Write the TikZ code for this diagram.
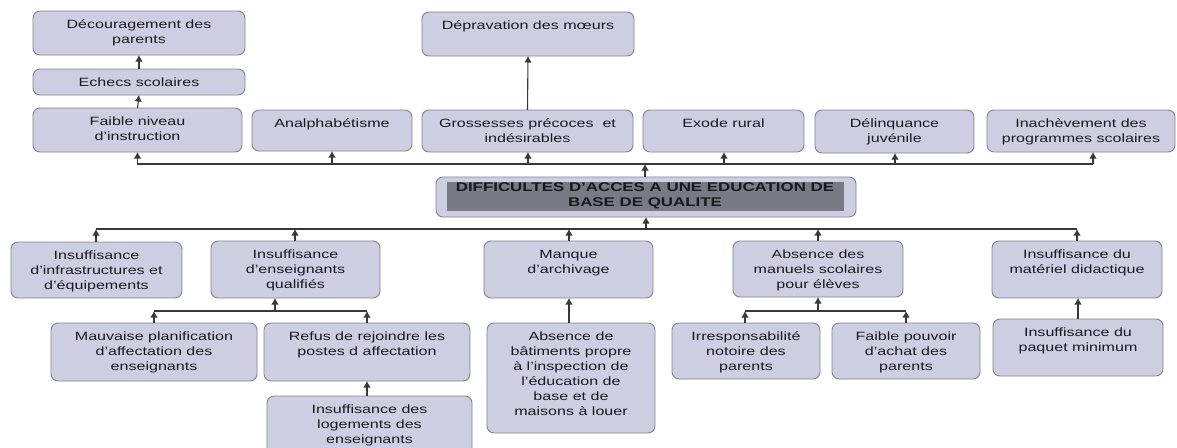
\documentclass[tikz,border=0pt]{standalone}
\usepackage{fontspec}
\setmainfont[FakeStretch=1.34]{Liberation Sans}
\usetikzlibrary{arrows.meta}
\definecolor{boxfill}{RGB}{206,206,226}
\definecolor{boxline}{RGB}{130,130,144}
\definecolor{linecol}{RGB}{55,55,60}
\definecolor{darkfill}{RGB}{122,122,132}
\definecolor{txtcol}{RGB}{25,25,30}
\tikzset{
  box/.style={draw=boxline, fill=boxfill, line width=0.9pt, rounded corners=7pt, inner sep=0pt, outer sep=0pt},
  txt/.style={text=txtcol, align=center, inner sep=0pt, font=\fontsize{12}{15}\selectfont},
  arr/.style={draw=linecol, line width=1.1pt, -{Latex[length=6.5pt,width=7.5pt]}},
  bus/.style={draw=linecol, line width=1.1pt},
}
\newcommand\bx[6]{%
  \node[box, minimum width={(#4-#2)*1pt}, minimum height={(#5-#3)*1pt}] (#1) at ({(#2+#4)/2},{(#3+#5)/2}) {};
  \node[txt, anchor=north] (#1-t) at ([yshift=-7pt]#1.north) {\strut #6};}
\begin{document}
\begin{tikzpicture}[x=1pt,y=-1pt]
\useasboundingbox (0,0) rectangle (1177,447);
\clip (0,0) rectangle (1177,447);
\fill[white] (0,0) rectangle (1177,447);

% top row
\bx{dec}{33}{11}{245}{55}{Découragement des\\parents}
\bx{ech}{33}{69}{245}{95}{Echecs scolaires}
\bx{fai}{33}{108}{242}{152}{Faible niveau\\d’instruction}
\bx{ana}{252}{110}{412}{151}{Analphabétisme}
\bx{gro}{422}{110}{633}{152}{Grossesses précoces~ et\\indésirables}
\bx{dep}{422}{12}{634}{56}{Dépravation des mœurs}
\bx{exo}{643}{110}{804}{152}{Exode rural}
\bx{del}{815}{110}{974}{153}{Délinquance\\juvénile}
\bx{ina}{987}{110}{1175}{152}{Inachèvement des\\programmes scolaires}

% central
\node[box, minimum width=420pt, minimum height=40pt] (cen) at (646,197) {};
\node[fill=darkfill, minimum width=397pt, minimum height=29pt, inner sep=0pt] (cenin) at (645.5,196.5) {};
\node[txt, font=\bfseries\fontsize{12.6}{15}\selectfont] (cen-t) at (645,195.5) {DIFFICULTES D’ACCES A UNE EDUCATION DE\\BASE DE QUALITE};

% lower row
\bx{inf}{11}{242}{182}{298}{Insuffisance\\d’infrastructures et\\d’équipements}
\bx{ens}{211}{241}{380}{298}{Insuffisance\\d’enseignants\\qualifiés}
\bx{man}{484}{241}{653}{298}{Manque\\d’archivage}
\bx{abm}{733}{241}{903}{297}{Absence des\\manuels scolaires\\pour élèves}
\bx{mat}{992}{241}{1162}{298}{Insuffisance du\\matériel didactique}
\bx{mau}{51}{323}{257}{381}{Mauvaise planification\\d’affectation des\\enseignants}
\bx{ref}{264}{323}{470}{381}{Refus de rejoindre les\\postes d affectation}
\bx{log}{267}{396}{472}{455}{Insuffisance des\\logements des\\enseignants}
\bx{bat}{487}{323}{655}{433}{Absence de\\bâtiments propre\\à l’inspection de\\l’éducation de\\base et de\\maisons à louer}
\bx{irr}{672}{323}{820}{379}{Irresponsabilité\\notoire des\\parents}
\bx{fpa}{832}{323}{980}{379}{Faible pouvoir\\d’achat des\\parents}
\bx{paq}{993}{319}{1163}{376}{Insuffisance du\\paquet minimum}

% top connectors
\draw[arr] (fai.north) -- (ech.south);
\draw[arr] (ech.north) -- (dec.south);
\draw[arr] (gro.north) -- (dep.south);
\coordinate (tL) at (138,164);
\coordinate (tR) at (1093,164);
\coordinate (tc) at (645,164);
\draw[bus] (tL) -- (tR);
\draw[arr] (cen.north -| tc) -- (tc);
\draw[arr] (tL) -- (tL -| fai.south) -- (fai.south);
\coordinate (t2) at (332,164);
\coordinate (t3) at (528,164);
\coordinate (t5) at (724,164);
\coordinate (t6) at (895,164);
\draw[arr] (t2) -- (t2 |- ana.south);
\draw[arr] (t3) -- (t3 |- gro.south);
\draw[arr] (t5) -- (t5 |- exo.south);
\draw[arr] (t6) -- (t6 |- del.south);
\draw[arr] (tR) -- (tR |- ina.south);

% lower connectors
\coordinate (bL) at (96,229);
\coordinate (bR) at (1077,229);
\coordinate (bc) at (646,229);
\draw[bus] (bL) -- (bR);
\draw[arr] (bc) -- (bc |- cen.south);
\coordinate (b2) at (295,229);
\coordinate (b3) at (569,229);
\coordinate (b4) at (818,229);
\draw[arr] (bL |- inf.north) -- (bL);
\draw[arr] (b2 |- ens.north) -- (b2);
\draw[arr] (b3 |- man.north) -- (b3);
\draw[arr] (b4 |- abm.north) -- (b4);
\draw[arr] (bR |- mat.north) -- (bR);

% sub-bus enseignants
\coordinate (eL) at (154,311);
\coordinate (eR) at (367,311);
\coordinate (ec) at (275,311);
\draw[bus] (eL) -- (eR);
\draw[arr] (ec) -- (ec |- ens.south);
\draw[arr] (eL |- mau.north) -- (eL);
\draw[arr] (eR |- ref.north) -- (eR);
\draw[arr] (log.north -| eR) -- (eR |- ref.south);

% archivage
\draw[arr] (bat.north -| b3) -- (b3 |- man.south);

% sub-bus manuels
\coordinate (mL) at (745,311);
\coordinate (mR) at (906,311);
\coordinate (mc) at (818,311);
\draw[bus] (mL) -- (mR);
\draw[arr] (mc) -- (mc |- abm.south);
\draw[arr] (mL |- irr.north) -- (mL);
\draw[arr] (mR |- fpa.north) -- (mR);

% materiel
\coordinate (pc) at (1078,300);
\draw[arr] (paq.north -| pc) -- (pc |- mat.south);
\end{tikzpicture}
\end{document}
